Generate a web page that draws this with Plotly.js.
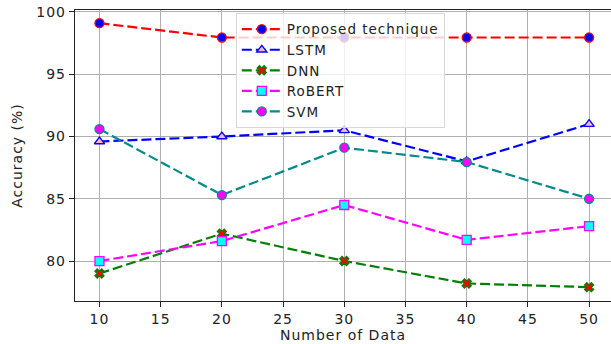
<!DOCTYPE html>
<html>
<head>
<meta charset="utf-8">
<script src="https://cdn.plot.ly/plotly-3.0.1.min.js"></script>
<style>
html,body{margin:0;padding:0;background:#fff}
#chart{width:611px;height:344px}
svg text{letter-spacing:1px}
</style>
</head>
<body>
<div id="chart"></div>
<script>
const xData = [10, 20, 30, 40, 50];
const proposed = [99.1, 97.95, 97.95, 97.95, 97.95];
const lstm = [89.6, 90.0, 90.5, 88.0, 91.0];
const dnn = [79.0, 82.2, 80.0, 78.2, 77.9];
const robert = [80.0, 81.6, 84.5, 81.7, 82.8];
const svm = [90.6, 85.3, 89.1, 87.95, 85.0];
const names = ["Proposed technique", "LSTM", "DNN", "RoBERT", "SVM"];
const xTicks = [10, 15, 20, 25, 30, 35, 40, 45, 50];
const yTicks = [80, 85, 90, 95, 100];

const dash = "10px,4px";
function tr(y, name, lineColor, sym, fill, edge, size) {
  return {
    x: xData, y: y, name: name, type: "scatter", mode: "lines+markers",
    line: {color: lineColor, width: 2.2, dash: dash},
    marker: {symbol: sym, color: fill, size: size, line: {color: edge, width: 1.3}}
  };
}
const traces = [
  tr(proposed, names[0], "red", "circle", "blue", "red", 9),
  tr(lstm, names[1], "blue", "triangle-up", "#ffb6c1", "blue", 9),
  tr(dnn, names[2], "green", "x", "red", "green", 8),
  tr(robert, names[3], "magenta", "square", "cyan", "magenta", 9),
  tr(svm, names[4], "darkcyan", "circle", "magenta", "darkcyan", 9)
];

const layout = {
  width: 611, height: 344,
  margin: {l: 75, r: 0, t: 10, b: 43},
  paper_bgcolor: "#fff", plot_bgcolor: "#fff",
  font: {family: "DejaVu Sans, sans-serif", size: 14, color: "#222"},
  showlegend: true,
  legend: {
    x: 0.30, y: 0.99, xanchor: "left", yanchor: "top",
    bgcolor: "rgba(255,255,255,0.8)", bordercolor: "#d8d8d8", borderwidth: 1,
    font: {size: 13.5, color: "#222"}, tracegroupgap: 0, itemwidth: 40
  },
  xaxis: {
    range: [8, 51.79], tickvals: xTicks,
    showgrid: true, gridcolor: "#b0b0b0", gridwidth: 1,
    showline: true, linecolor: "#222", linewidth: 1.2, mirror: true,
    ticks: "outside", ticklen: 5, tickcolor: "#222", zeroline: false,
    tickfont: {size: 14},
    title: {text: "Number of Data", font: {size: 14}, standoff: 2}
  },
  yaxis: {
    range: [76.79, 100.16], tickvals: yTicks,
    showgrid: true, gridcolor: "#b0b0b0", gridwidth: 1,
    showline: true, linecolor: "#222", linewidth: 1.2,
    ticks: "outside", ticklen: 5, tickcolor: "#222", zeroline: false,
    tickfont: {size: 14},
    title: {text: "Accuracy (%)", font: {size: 14}, standoff: 10}
  }
};
Plotly.newPlot("chart", traces, layout, {displayModeBar: false, staticPlot: true});
</script>
</body>
</html>
